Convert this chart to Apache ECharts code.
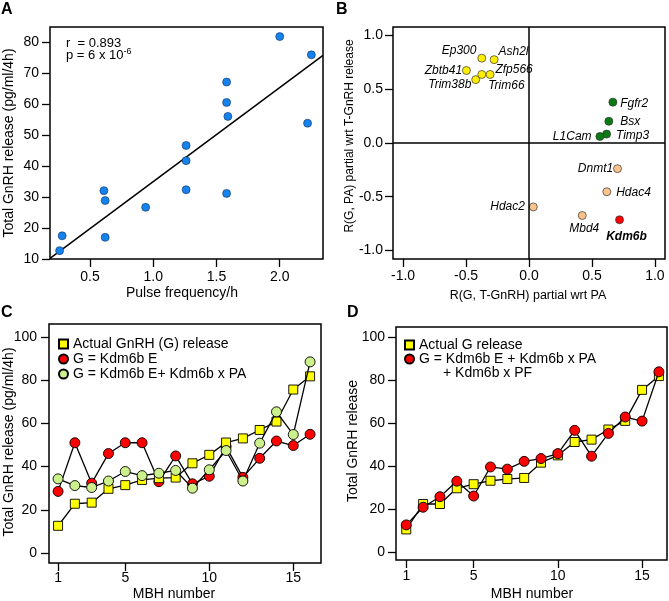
<!DOCTYPE html>
<html><head><meta charset="utf-8">
<script src="https://cdn.jsdelivr.net/npm/echarts@6/dist/echarts.min.js"></script>
<style>html,body{margin:0;padding:0;background:#fff}#c{width:669px;height:601px}</style>
</head><body><div id="c"></div>
<script>
const FONT = 'Liberation Sans, Arial, Helvetica, sans-serif';

// ---------- Panel A data ----------
const pulseFreq   = [0.26, 0.28, 0.61, 0.62, 0.62, 0.94, 1.26, 1.26, 1.26, 1.58, 1.58, 1.59, 1.58, 2.00, 2.25, 2.22];
const totalGnRH_A = [12.7, 17.5, 32.1, 28.9, 17.0, 26.7, 46.7, 41.8, 32.4, 67.2, 60.6, 56.1, 31.2, 81.9, 76.0, 53.9];
const fitX = [0.184, 2.342];
const fitY = [10.2, 75.8];
const aXTicks = [0.5, 1.0, 1.5, 2.0];
const aYTicks = [10, 20, 30, 40, 50, 60, 70, 80];

// ---------- Panel B data ----------
const genes  = ['Ep300', 'Ash2l', 'Zbtb41', 'Trim38b', 'Trim66', 'Zfp566', 'Fgfr2', 'Bsx', 'Timp3', 'L1Cam', 'Dnmt1', 'Hdac4', 'Hdac2', 'Mbd4', 'Kdm6b'];
const rGT    = [-0.375, -0.277, -0.497, -0.423, -0.375, -0.309, 0.666, 0.634, 0.616, 0.563, 0.703, 0.618, 0.034, 0.423, 0.719];
const rGPA   = [0.790, 0.776, 0.675, 0.590, 0.638, 0.638, 0.380, 0.202, 0.083, 0.061, -0.239, -0.454, -0.595, -0.675, -0.715];
const groups = ['yellow', 'yellow', 'yellow', 'yellow', 'yellow', 'yellow', 'green', 'green', 'green', 'green', 'peach', 'peach', 'peach', 'peach', 'red'];
const bTicks = [-1.0, -0.5, 0.0, 0.5, 1.0];

// ---------- Panel C / D data ----------
const mbh       = [1, 2, 3, 4, 5, 6, 7, 8, 9, 10, 11, 12, 13, 14, 15, 16];
const actualC   = [12.6, 22.8, 23.3, 29.7, 31.4, 33.8, 34.6, 34.9, 41.5, 45.4, 51.1, 53.0, 56.9, 60.8, 75.6, 81.7];
const kdmE_C    = [28.5, 51.0, 32.3, 46.0, 51.0, 51.0, 33.0, 44.9, 32.0, 35.5, 49.2, 35.0, 43.8, 51.8, 49.7, 54.9];
const kdmEPA_C  = [34.3, 31.2, 30.3, 33.3, 37.7, 35.8, 36.9, 38.2, 30.0, 38.5, 47.4, 33.3, 50.8, 65.3, 54.8, 88.4];
const actualD   = [10.6, 22.4, 22.4, 29.7, 31.6, 33.2, 34.0, 34.5, 41.6, 45.0, 51.2, 52.3, 57.0, 61.0, 75.4, 81.8];
const kdmFull_D = [12.7, 20.9, 25.8, 33.0, 26.1, 39.6, 38.6, 42.2, 43.5, 45.8, 56.6, 44.6, 55.2, 62.8, 60.9, 83.8];
const cdXTicks  = [1, 5, 10, 15];
const cdYTicks  = [0, 20, 40, 60, 80, 100];

// ---------- styling helpers ----------
const colors = { yellow: '#ffee00', green: '#0b7a12', peach: '#f9c48c', red: '#ff0000' };
const zip = (xs, ys) => xs.map((x, i) => [x, ys[i]]);

function valAxis(idx, min, max, ticks, opts) {
  opts = opts || {};
  return {
    type: 'value', gridIndex: idx, min: min, max: max,
    axisLine: { show: false, onZero: false },
    splitLine: { show: false },
    axisTick: { show: true, inside: false, length: opts.tickLen || 7, lineStyle: { color: '#000', width: 1.3 }, customValues: ticks },
    axisLabel: { show: true, customValues: ticks, margin: opts.margin || 10, color: '#000', fontSize: 14, fontFamily: FONT,
                 formatter: opts.fmt || (v => String(v)) }
  };
}
const f1 = v => Number(v).toFixed(1);

// label placement for panel B (style, not data)
const bLabelPos = {
  Ep300:  { position: 'left',   distance: 1, offset: [0, -7] },
  Ash2l:  { position: 'right',  distance: 0, offset: [0, -8] },
  Zbtb41: { position: 'left',   distance: 0, offset: [0, 0] },
  Trim38b:{ position: 'left',   distance: 0, offset: [0, 5] },
  Trim66: { position: 'right',  distance: 0, offset: [2, 11] },
  Zfp566: { position: 'right',  distance: 1, offset: [0, -5] },
  Fgfr2:  { position: 'right',  distance: 3, offset: [0, 1] },
  Bsx:    { position: 'right',  distance: 7, offset: [0, 0] },
  Timp3:  { position: 'right',  distance: 5, offset: [0, 2] },
  L1Cam:  { position: 'left',   distance: 4, offset: [0, 0] },
  Dnmt1:  { position: 'left',   distance: 0, offset: [0, 0] },
  Hdac4:  { position: 'right',  distance: 5, offset: [0, 1] },
  Hdac2:  { position: 'left',   distance: 4, offset: [0, 0] },
  Mbd4:   { position: 'bottom', distance: 3, offset: [2, 0] },
  Kdm6b:  { position: 'bottom', distance: 7, offset: [7, 0] }
};

const bData = genes.map((g, i) => ({
  value: [rGT[i], rGPA[i]],
  name: g,
  itemStyle: { color: colors[groups[i]] },
  label: Object.assign({ show: true, formatter: g, fontStyle: 'italic', fontWeight: g === 'Kdm6b' ? 'bold' : 'normal',
                          fontSize: 12, fontFamily: FONT, color: '#000' }, bLabelPos[g])
}));

const lineBase = (name, xi, data, symbol, size, color, z) => ({
  name: name, type: 'line', xAxisIndex: xi, yAxisIndex: xi, data: data,
  symbol: symbol, symbolSize: size, showSymbol: true, z: z,
  itemStyle: { color: color, borderColor: '#000', borderWidth: 0.9 },
  lineStyle: { color: '#000', width: 1.3 },
  emphasis: { disabled: true }, animation: false
});

const chart = echarts.init(document.getElementById('c'), null, { renderer: 'canvas' });

const gridBase = { show: true, borderColor: '#000', borderWidth: 1.5, backgroundColor: 'transparent', containLabel: false };

const option = {
  animation: false,
  backgroundColor: '#fff',
  textStyle: { fontFamily: FONT },
  grid: [
    Object.assign({ left: 50, top: 27, width: 273, height: 232 }, gridBase),
    Object.assign({ left: 393, top: 27, width: 272, height: 232 }, gridBase),
    Object.assign({ left: 49, top: 324, width: 272, height: 239 }, gridBase),
    Object.assign({ left: 396, top: 327, width: 271, height: 233 }, gridBase)
  ],
  xAxis: [
    valAxis(0, 0.184, 2.342, aXTicks, { fmt: f1, margin: 11, tickLen: 8 }),
    valAxis(1, -1.08, 1.08, bTicks, { fmt: f1, margin: 10, tickLen: 8 }),
    valAxis(2, 0.46, 16.65, cdXTicks, { margin: 8, tickLen: 8 }),
    valAxis(3, 0.39, 16.48, cdXTicks, { margin: 9, tickLen: 8 })
  ],
  yAxis: [
    valAxis(0, 10, 85, aYTicks, { margin: 11, tickLen: 8 }),
    valAxis(1, -1.08, 1.08, bTicks, { fmt: f1, margin: 10, tickLen: 8 }),
    valAxis(2, -4.6, 105.9, cdYTicks, { margin: 12, tickLen: 8 }),
    valAxis(3, -3.6, 104.6, cdYTicks, { margin: 11, tickLen: 8 })
  ],
  legend: [
    {
      orient: 'vertical', left: 58, top: 337, padding: 0, itemWidth: 9, itemHeight: 9, itemGap: 1,
      selectedMode: false,
      textStyle: { fontSize: 14, fontFamily: FONT, color: '#000' },
      data: [
        { name: 'Actual GnRH (G) release', icon: 'rect' },
        { name: 'G = Kdm6b E', icon: 'circle' },
        { name: 'G = Kdm6b E+ Kdm6b x PA', icon: 'circle' }
      ]
    },
    {
      orient: 'vertical', left: 404, top: 338, padding: 0, itemWidth: 9, itemHeight: 9, itemGap: 0,
      selectedMode: false,
      textStyle: { fontSize: 14, fontFamily: FONT, color: '#000' },
      data: [
        { name: 'Actual G release', icon: 'rect' },
        { name: 'G = Kdm6b E + Kdm6b x PA', icon: 'circle' }
      ]
    }
  ],
  series: [
    // Panel A
    { type: 'line', xAxisIndex: 0, yAxisIndex: 0, data: zip(fitX, fitY), symbol: 'none',
      lineStyle: { color: '#000', width: 1.5 }, z: 2, silent: true },
    { type: 'scatter', xAxisIndex: 0, yAxisIndex: 0, data: zip(pulseFreq, totalGnRH_A), symbol: 'circle', symbolSize: 8,
      itemStyle: { color: '#1582ee', borderColor: '#10335a', borderWidth: 0.6, opacity: 1 }, z: 3 },
    // Panel B
    { type: 'scatter', xAxisIndex: 1, yAxisIndex: 1, data: bData, symbol: 'circle', symbolSize: 8,
      itemStyle: { borderColor: '#333', borderWidth: 0.7, opacity: 1 }, z: 3,
      markLine: { silent: true, symbol: ['none', 'none'], label: { show: false },
                  lineStyle: { color: '#000', width: 1.5, type: 'solid' },
                  data: [{ xAxis: 0 }, { yAxis: 0 }] } },
    // Panel C
    lineBase('G = Kdm6b E', 2, zip(mbh, kdmE_C), 'circle', 10, '#ff0000', 2),
    lineBase('Actual GnRH (G) release', 2, zip(mbh, actualC), 'rect', 9, '#ffff00', 3),
    lineBase('G = Kdm6b E+ Kdm6b x PA', 2, zip(mbh, kdmEPA_C), 'circle', 10, '#ccf08c', 4),
    // Panel D
    lineBase('Actual G release', 3, zip(mbh, actualD), 'rect', 9, '#ffff00', 2),
    lineBase('G = Kdm6b E + Kdm6b x PA', 3, zip(mbh, kdmFull_D), 'circle', 10, '#ff0000', 3)
  ],
  graphic: [
    // panel letters
    { type: 'text', left: 1, top: 2, style: { text: 'A', font: 'bold 16px ' + FONT, fill: '#000' } },
    { type: 'text', left: 336, top: 2, style: { text: 'B', font: 'bold 16px ' + FONT, fill: '#000' } },
    { type: 'text', left: 1, top: 305, style: { text: 'C', font: 'bold 16px ' + FONT, fill: '#000' } },
    { type: 'text', left: 347, top: 305, style: { text: 'D', font: 'bold 16px ' + FONT, fill: '#000' } },
    // stats in A
    { type: 'text', x: 66, y: 43, style: { text: 'r  = 0.893', font: '13px ' + FONT, fill: '#000', verticalAlign: 'middle' } },
    { type: 'text', x: 66, y: 55, style: { text: '{n|p = 6 x 10}{s|-6}', fill: '#000', verticalAlign: 'middle',
        rich: { n: { fontSize: 13, fontFamily: FONT }, s: { fontSize: 9, fontFamily: FONT, verticalAlign: 'top', padding: [0, 0, 7, 0] } } } },
    // axis titles
    { type: 'text', x: 9, y: 143, rotation: Math.PI / 2, style: { text: 'Total GnRH release (pg/ml/4h)', font: '14px ' + FONT, fill: '#000', align: 'center', verticalAlign: 'middle' } },
    { type: 'text', x: 182, y: 293, style: { text: 'Pulse frequency/h', font: '14px ' + FONT, fill: '#000', align: 'center', verticalAlign: 'middle' } },
    { type: 'text', x: 350, y: 136, rotation: Math.PI / 2, style: { text: 'R(G, PA) partial wrt T-GnRH release', font: '12px ' + FONT, fill: '#000', align: 'center', verticalAlign: 'middle' } },
    { type: 'text', x: 528, y: 296, style: { text: 'R(G, T-GnRH) partial wrt PA', font: '12.5px ' + FONT, fill: '#000', align: 'center', verticalAlign: 'middle' } },
    { type: 'text', x: 9, y: 442, rotation: Math.PI / 2, style: { text: 'Total GnRH release (pg/ml/4h)', font: '14px ' + FONT, fill: '#000', align: 'center', verticalAlign: 'middle' } },
    { type: 'text', x: 174, y: 594, style: { text: 'MBH number', font: '14px ' + FONT, fill: '#000', align: 'center', verticalAlign: 'middle' } },
    { type: 'text', x: 353, y: 441, rotation: Math.PI / 2, style: { text: 'Total GnRH release', font: '14px ' + FONT, fill: '#000', align: 'center', verticalAlign: 'middle' } },
    { type: 'text', x: 532, y: 594, style: { text: 'MBH number', font: '14px ' + FONT, fill: '#000', align: 'center', verticalAlign: 'middle' } },
    // continuation of D legend
    { type: 'text', x: 443, y: 373, style: { text: '+ Kdm6b x PF', font: '14px ' + FONT, fill: '#000', verticalAlign: 'middle' } }
  ]
};
chart.setOption(option);
</script>
</body></html>
